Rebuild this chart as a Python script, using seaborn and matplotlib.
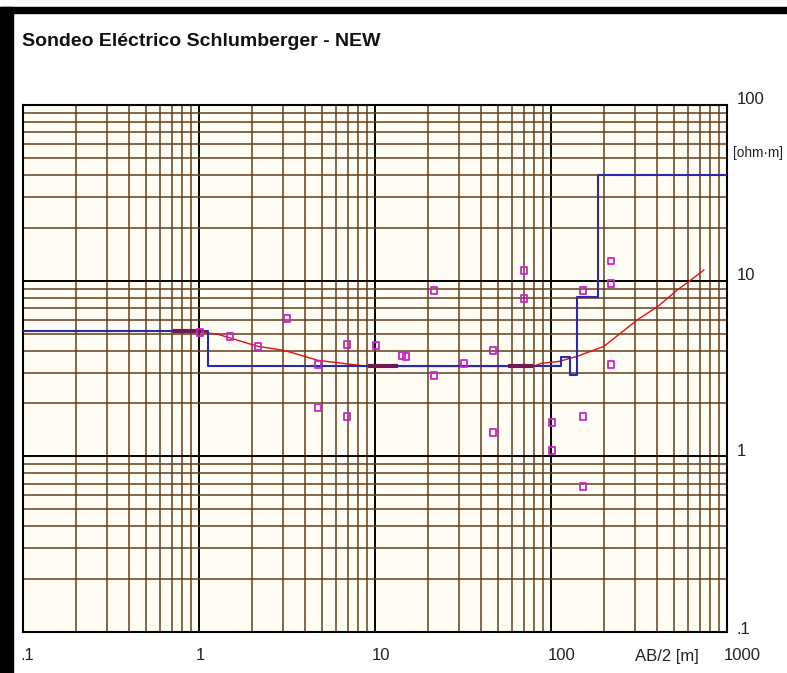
import numpy as np
import pandas as pd
import matplotlib
matplotlib.use("Agg")
import matplotlib.pyplot as plt
import matplotlib.transforms as mtransforms
from matplotlib.patches import Rectangle
from matplotlib.ticker import LogLocator, NullFormatter
import seaborn as sns

# ---- data ----
# measured apparent resistivity (AB/2 [m], rho [ohm.m])
meas_ab2 = [1.01, 1.5, 2.16, 3.16, 4.74, 4.74, 6.93, 6.93, 10.1, 14.2, 15.0,
            21.6, 21.6, 32, 46.8, 46.8, 70.3, 70.3, 101, 101,
            152, 152, 152, 219, 219, 219]
meas_rho = [5.08, 4.82, 4.23, 6.1, 3.34, 1.90, 4.34, 1.69, 4.28, 3.76, 3.71,
            8.81, 2.89, 3.38, 4.01, 1.37, 11.4, 7.93, 1.56, 1.08,
            8.81, 1.69, 0.675, 12.9, 9.66, 3.34]

# fitted curve
fit_ab2 = [0.71, 1.03, 1.28, 2.16, 3.04, 4.74, 7.3, 9.1, 13.5, 57, 79, 88,
           111, 141, 200, 312, 405, 527, 608, 740]
fit_rho = [5.1, 5.1, 4.95, 4.23, 4.01, 3.52, 3.34, 3.25, 3.25, 3.25, 3.25,
           3.38, 3.47, 3.71, 4.23, 6.02, 7.14, 8.92, 9.9, 11.5]

# layered model (step)
model_depth = [0.1, 1.12, 114, 128, 141, 185, 1000]
model_rho = [5.15, 3.25, 3.7, 2.9, 8.1, 40, 40]

# data-range segments drawn thick
seg_ab2 = [(0.71, 1.03), (9.1, 13.5), (57, 79)]
seg_rho = [5.15, 3.25, 3.25]

x_tick_vals = [0.1, 1, 10, 100, 1000]
x_tick_text = [".1", "1", "10", "100", "1000"]
y_tick_vals = [100, 10, 1, 0.1]
y_tick_text = ["100", "10", "1", ".1"]

sns.set_theme(style="white")
plt.rcParams["font.family"] = ["Liberation Sans", "DejaVu Sans"]

W, H = 787, 673
fig = plt.figure(figsize=(W / 100, H / 100), dpi=100)
fig.patch.set_facecolor("white")

L, R, T, B = 23, 727, 105, 632
ax = fig.add_axes([L / W, 1 - B / H, (R - L) / W, (B - T) / H])
ax.set_facecolor("#fffcf4")
ax.set_xscale("log")
ax.set_yscale("log")
ax.set_xlim(0.1, 1000)
ax.set_ylim(0.1, 100)

ax.xaxis.set_major_locator(LogLocator(base=10))
ax.yaxis.set_major_locator(LogLocator(base=10))
ax.xaxis.set_minor_locator(LogLocator(base=10, subs=np.arange(2, 10)))
ax.yaxis.set_minor_locator(LogLocator(base=10, subs=np.arange(2, 10)))
ax.xaxis.set_major_formatter(NullFormatter())
ax.yaxis.set_major_formatter(NullFormatter())
ax.xaxis.set_minor_formatter(NullFormatter())
ax.yaxis.set_minor_formatter(NullFormatter())
ax.tick_params(which="both", length=0)
ax.grid(which="minor", color="#62401f", linewidth=1.1)
ax.grid(which="major", color="black", linewidth=1.4)
ax.set_axisbelow(True)
for sp in ax.spines.values():
    sp.set_color("black")
    sp.set_linewidth(1.5)

fit_df = pd.DataFrame({"ab2": fit_ab2, "rho": fit_rho})
sns.lineplot(data=fit_df, x="ab2", y="rho", ax=ax, color="#e01010",
             linewidth=1.0, estimator=None, sort=False, zorder=3)

model_df = pd.DataFrame({"depth": model_depth, "rho": model_rho})
sns.lineplot(data=model_df, x="depth", y="rho", ax=ax, color="#2a2ab0",
             linewidth=1.5, estimator=None, sort=False,
             drawstyle="steps-post", zorder=4)

for (x0, x1), r in zip(seg_ab2, seg_rho):
    ax.plot([x0, x1], [r, r], color="#6e1a50", linewidth=3.0, zorder=5,
            solid_capstyle="butt")

meas_df = pd.DataFrame({"ab2": meas_ab2, "rho": meas_rho})
sns.scatterplot(data=meas_df, x="ab2", y="rho", ax=ax, marker="s", s=22,
                facecolor="none", edgecolor="#cc22cc", linewidth=1.3, zorder=6)

ax.set_xlabel("")
ax.set_ylabel("")

# tick labels as text
lab_kw = dict(fontsize=12, color="#222222")
xt = mtransforms.offset_copy(ax.get_xaxis_transform(), fig=fig, x=-3, y=-24, units="dots")
for v, t in zip(x_tick_vals, x_tick_text):
    ax.text(v, 0, t, transform=xt, ha="left", va="center", clip_on=False, **lab_kw)

for v, t in zip(y_tick_vals, y_tick_text):
    dy = 3 if t == ".1" else 5
    yt = mtransforms.offset_copy(ax.get_yaxis_transform(), fig=fig, x=10, y=dy, units="dots")
    ax.text(1, v, t, transform=yt, ha="left", va="center", clip_on=False, **lab_kw)

fig.text(733 / W, 1 - 153 / H, "[ohm·m]", ha="left", va="center",
         fontsize=9.8, color="#222222")
fig.text(635 / W, 1 - 656 / H, "AB/2 [m]", ha="left", va="center", **lab_kw)

fig.text(22 / W, 1 - 41 / H, "Sondeo Eléctrico Schlumberger - NEW",
         fontsize=14, fontweight="bold", ha="left", va="center", color="#111111")

# black window border
fig.patches.append(Rectangle((0, 0), 13 / W, 1 - 7 / H, transform=fig.transFigure,
                             color="black", zorder=10))
fig.patches.append(Rectangle((0, 1 - 13 / H), 1, 6 / H, transform=fig.transFigure,
                             color="black", zorder=10))

fig.savefig("out.png", dpi=100)
